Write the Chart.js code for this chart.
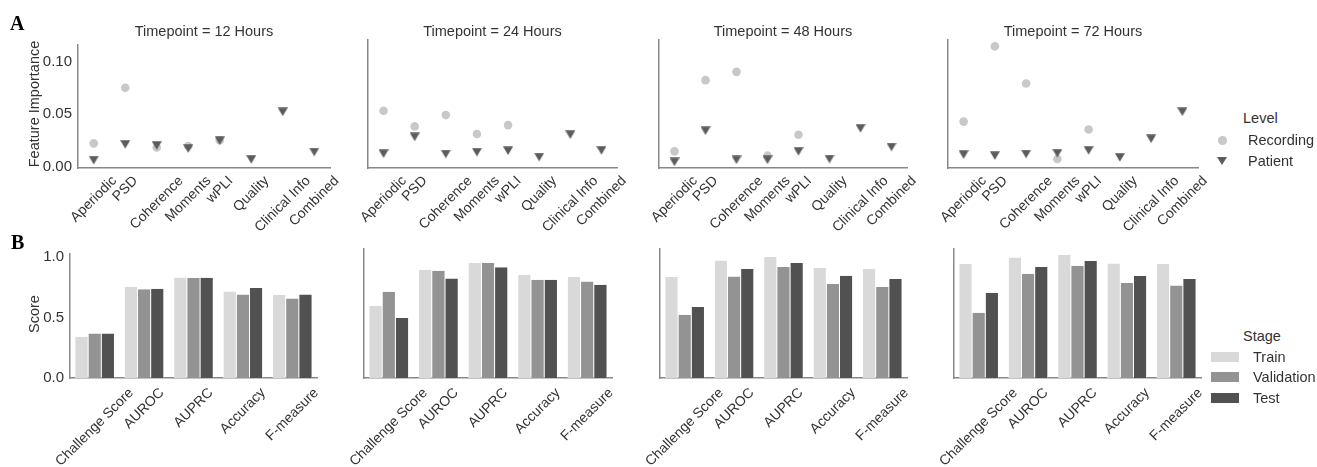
<!DOCTYPE html>
<html>
<head>
<meta charset="utf-8">
<script src="https://cdn.jsdelivr.net/npm/chart.js@4.4.0/dist/chart.umd.min.js"></script>
<style>
  body { margin: 0; background: #fff; }
  #wrap { position: relative; width: 1317px; height: 467px; overflow: hidden; font-family: "Liberation Sans", Arial, sans-serif; color: #333; }
  #wrap canvas { position: absolute; }
  .txt { position: absolute; white-space: nowrap; font-size: 14.5px; line-height: 16px; }
  .panel { position: absolute; font-family: "Liberation Serif", "Times New Roman", serif; font-weight: bold; font-size: 20px; color: #000; }
</style>
</head>
<body>
<div id="wrap"></div>
<script>
// feature importance per timepoint (panel A)
const features = ['Aperiodic', 'PSD', 'Coherence', 'Moments', 'wPLI', 'Quality', 'Clinical Info', 'Combined'];
const titles = ['Timepoint = 12 Hours', 'Timepoint = 24 Hours', 'Timepoint = 48 Hours', 'Timepoint = 72 Hours'];

const recording12 = [0.022, 0.075, 0.018, 0.0195, 0.025, null, null, null];
const patient12 = [0.006, 0.021, 0.020, 0.017, 0.0245, 0.0067, 0.052, 0.0137];
const recording24 = [0.051, 0.0366, 0.047, 0.0296, 0.0378, null, null, null];
const patient24 = [0.0116, 0.027, 0.0113, 0.013, 0.0143, 0.0085, 0.029, 0.0146];
const recording48 = [0.0137, 0.079, 0.0866, 0.0098, 0.029, null, null, null];
const patient48 = [0.004, 0.0326, 0.006, 0.006, 0.0137, 0.0067, 0.0348, 0.0177];
const recording72 = [0.041, 0.110, 0.076, 0.0067, 0.0338, null, null, null];
const patient72 = [0.0107, 0.0098, 0.0113, 0.012, 0.0146, 0.0082, 0.0253, 0.050];
const importanceTicks = [0, 0.05, 0.10];

// scores per timepoint (panel B)
const metrics = ['Challenge Score', 'AUROC', 'AUPRC', 'Accuracy', 'F-measure'];
const train12 = [0.342, 0.756, 0.833, 0.716, 0.690];
const validation12 = [0.369, 0.735, 0.828, 0.692, 0.658];
const test12 = [0.369, 0.740, 0.830, 0.745, 0.692];
const train24 = [0.576, 0.862, 0.915, 0.822, 0.804];
const validation24 = [0.687, 0.854, 0.915, 0.782, 0.769];
const test24 = [0.477, 0.793, 0.881, 0.782, 0.743];
const train48 = [0.804, 0.936, 0.963, 0.875, 0.867];
const validation48 = [0.504, 0.809, 0.883, 0.748, 0.724];
const test48 = [0.565, 0.867, 0.915, 0.814, 0.788];
const train72 = [0.907, 0.960, 0.979, 0.912, 0.907];
const validation72 = [0.520, 0.830, 0.894, 0.756, 0.737];
const test72 = [0.676, 0.883, 0.931, 0.812, 0.788];
const scoreTicks = [0, 0.5, 1.0];

const FONT = '"Liberation Sans", Arial, sans-serif';
const TEXT = '#333';
const AXIS = '#888';
const recColor = '#c8c8c8';
const patColor = '#5c5c5c';
const trainColor = '#d9d9d9';
const valColor = '#939393';
const testColor = '#515151';

const wrap = document.getElementById('wrap');

function addText(str, x, y, cls, extra) {
  const d = document.createElement('div');
  d.className = cls || 'txt';
  d.textContent = str;
  d.style.left = x + 'px';
  d.style.top = y + 'px';
  if (extra) Object.assign(d.style, extra);
  wrap.appendChild(d);
  return d;
}

// down triangle marker, centred on its box like matplotlib's 'v'
const triMarker = document.createElement('canvas');
triMarker.width = 10; triMarker.height = 9;
(function () {
  const t = triMarker.getContext('2d');
  t.fillStyle = patColor;
  t.beginPath();
  t.moveTo(0, 0.25); t.lineTo(10, 0.25); t.lineTo(5, 8.75);
  t.closePath();
  t.fill();
})();

// rotated tick labels centred on the tick, like ha='center'
const xLabels = {
  id: 'xlabels',
  afterDraw(chart, args, opts) {
    const ctx = chart.ctx;
    const xs = chart.scales.x;
    const base = chart.chartArea.bottom + opts.offset;
    ctx.save();
    ctx.font = opts.size + 'px ' + FONT;
    ctx.fillStyle = TEXT;
    ctx.textAlign = 'center';
    ctx.textBaseline = 'middle';
    xs.getLabels().forEach((lab, i) => {
      const w = ctx.measureText(lab).width;
      const h = opts.size * 1.15;
      const x = xs.getPixelForValue(i);
      const y = base + (w + h) / (2 * Math.SQRT2);
      ctx.save();
      ctx.translate(x, y);
      ctx.rotate(-Math.PI / 4);
      ctx.fillText(lab, 0, 0);
      ctx.restore();
    });
    ctx.restore();
  }
};

function makeCanvas(left, top, right, bottom, below) {
  const c = document.createElement('canvas');
  const L = Math.round(left) - 70, T = Math.round(top) - 10;
  const W = Math.round(right - left) + 110;
  const H = Math.round(bottom - top) + 10 + below;
  c.width = W; c.height = H;
  c.style.left = L + 'px'; c.style.top = T + 'px';
  wrap.appendChild(c);
  return c;
}

function yScale(min, max, ticks, digits, showTicks) {
  return {
    min: min, max: max,
    grid: { display: false, drawTicks: false, tickLength: 0 },
    border: { color: AXIS, width: 1.5 },
    ticks: { display: showTicks, color: TEXT, padding: 6, font: { family: FONT, size: 15 },
      callback: v => v.toFixed(digits) },
    afterBuildTicks: s => { s.ticks = ticks.map(v => ({ value: v })); },
    afterFit: s => { s.width = 60; }
  };
}

function xScale(h, offset) {
  return {
    type: 'category', offset: offset,
    grid: { display: false, drawTicks: false, tickLength: 0 },
    border: { color: AXIS, width: 1.5 },
    ticks: { display: false },
    afterFit: s => { s.height = h; }
  };
}

function importanceChart(box, rec, pat, first) {
  const below = 70;
  const c = makeCanvas(box[0], box[1], box[2], box[3], below);
  new Chart(c, {
    type: 'line',
    data: {
      labels: features,
      datasets: [
        { label: 'Recording', data: rec, showLine: false, order: 1, clip: false,
          pointStyle: 'circle', pointRadius: 4.3, pointBorderWidth: 0,
          backgroundColor: recColor, borderColor: recColor },
        { label: 'Patient', data: pat, showLine: false, order: 0, clip: false,
          pointStyle: triMarker, pointRadius: 5,
          backgroundColor: patColor, borderColor: patColor }
      ]
    },
    options: {
      responsive: false, animation: false,
      layout: { padding: { left: 10, right: 40, top: 10, bottom: 0 } },
      plugins: { legend: { display: false }, tooltip: { enabled: false }, xlabels: { size: 14, offset: 5 } },
      scales: {
        x: xScale(below, true),
        y: yScale(-0.0015, 0.1158, importanceTicks, 2, first)
      }
    },
    plugins: [xLabels]
  });
}

function scoreChart(box, tr, va, te, first) {
  const below = 467 - Math.round(box[3]);
  const c = makeCanvas(box[0], box[1], box[2], box[3], below);
  const ds = (label, data, color) => ({
    label: label, data: data, backgroundColor: color,
    borderColor: '#ffffff', borderWidth: { left: 0.5, right: 0.5, top: 0, bottom: 0 },
    categoryPercentage: 0.8, barPercentage: 1.0
  });
  new Chart(c, {
    type: 'bar',
    data: {
      labels: metrics,
      datasets: [ds('Train', tr, trainColor), ds('Validation', va, valColor), ds('Test', te, testColor)]
    },
    options: {
      responsive: false, animation: false,
      layout: { padding: { left: 10, right: 40, top: 10, bottom: 0 } },
      plugins: { legend: { display: false }, tooltip: { enabled: false }, xlabels: { size: 14, offset: 7 } },
      scales: {
        x: xScale(below, true),
        y: yScale(0, 1.027, scoreTicks, 1, first)
      }
    },
    plugins: [xLabels]
  });
}

const topBoxes = [[78, 40, 330, 168], [368, 40, 617, 168], [659, 40, 907, 168], [948, 40, 1198, 168]];
const botBoxes = [[70, 249, 317, 378], [364, 249, 612, 378], [660, 249, 907, 378], [954, 249, 1201, 378]];
const recs = [recording12, recording24, recording48, recording72];
const pats = [patient12, patient24, patient48, patient72];
const trains = [train12, train24, train48, train72];
const vals = [validation12, validation24, validation48, validation72];
const tests = [test12, test24, test48, test72];

for (let i = 0; i < 4; i++) {
  importanceChart(topBoxes[i], recs[i], pats[i], i === 0);
  scoreChart(botBoxes[i], trains[i], vals[i], tests[i], i === 0);
  const b = topBoxes[i];
  const t = addText(titles[i], 0, 23);
  t.style.left = ((b[0] + b[2]) / 2) + 'px';
  t.style.transform = 'translateX(-50%)';
}

// y axis titles
addText('Feature Importance', 34, 104, 'txt', { transform: 'translate(-50%, -50%) rotate(-90deg)' });
addText('Score', 34, 314, 'txt', { transform: 'translate(-50%, -50%) rotate(-90deg)' });

// panel letters
addText('A', 10, 12, 'panel');
addText('B', 11, 231, 'panel');

// Level legend
addText('Level', 1243, 110);
const circ = document.createElement('div');
Object.assign(circ.style, { position: 'absolute', left: '1218px', top: '136px', width: '8.6px', height: '8.6px', borderRadius: '50%', background: recColor });
wrap.appendChild(circ);
addText('Recording', 1248, 132);
const tri = document.createElement('div');
Object.assign(tri.style, { position: 'absolute', left: '1217px', top: '157px', width: 0, height: 0,
  borderLeft: '5px solid transparent', borderRight: '5px solid transparent', borderTop: '8.5px solid ' + patColor });
wrap.appendChild(tri);
addText('Patient', 1248, 153);

// Stage legend
addText('Stage', 1243, 328);
[['Train', trainColor, 357], ['Validation', valColor, 377], ['Test', testColor, 398]].forEach(r => {
  const p = document.createElement('div');
  Object.assign(p.style, { position: 'absolute', left: '1211px', top: (r[2] - 5) + 'px', width: '28px', height: '10px', background: r[1] });
  wrap.appendChild(p);
  addText(r[0], 1253, r[2] - 8);
});
</script>
</body>
</html>
